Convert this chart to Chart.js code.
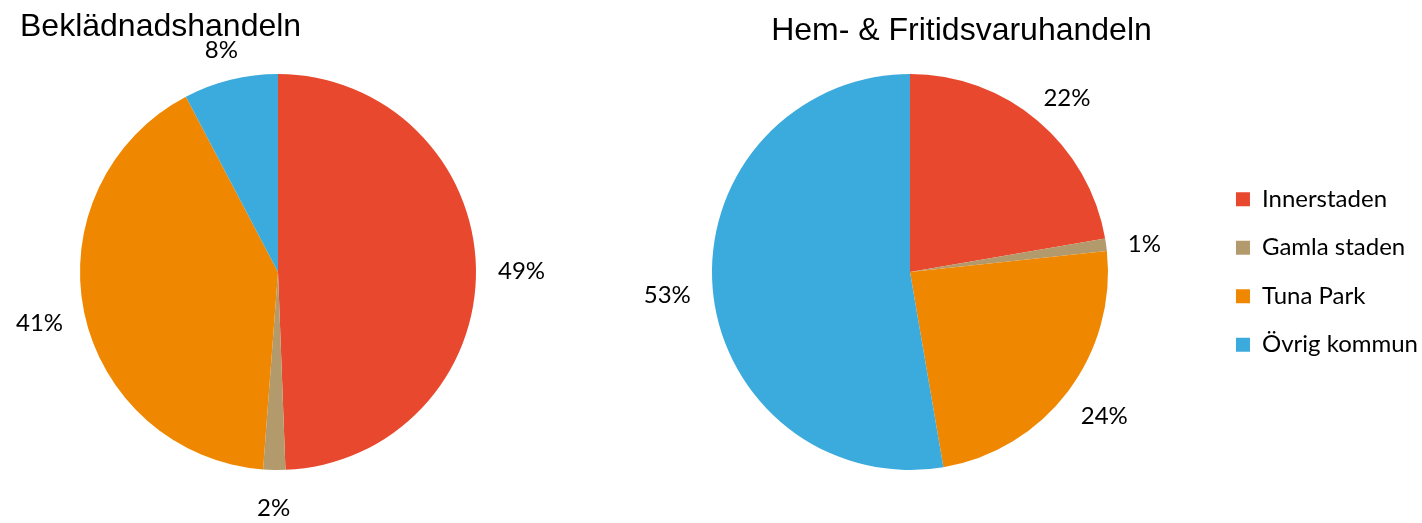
<!DOCTYPE html>
<html>
<head>
<meta charset="utf-8">
<script src="https://cdn.jsdelivr.net/npm/chart.js@4"></script>
<style>
  html, body { margin: 0; padding: 0; background: #fff; overflow: hidden; }
  #wrap { position: relative; width: 1422px; height: 523px; }
  #leftBox { position: absolute; left: 0; top: 0; width: 556px; height: 523px; }
  #rightBox { position: absolute; left: 556px; top: 0; width: 872px; height: 523px; }
</style>
</head>
<body>
<div id="wrap">
  <div id="leftBox"><canvas id="pie-left"></canvas></div>
  <div id="rightBox"><canvas id="pie-right"></canvas></div>
</div>
<script>
//PIE DATA
var areas = ["Innerstaden", "Gamla staden", "Tuna Park", "Övrig kommun"];
var klaederValues = [49.4, 1.8, 41.1, 7.7];
var hemValues = [22.3, 1.0, 24.0, 52.7];
var areaColors = ["#E8492E", "#B39A6C", "#F08700", "#3BAADC"];

var headingLeft = "Beklädnadshandeln";
var headingRight = "Hem- & Fritidsvaruhandeln";

//HEADING PLUGIN (draws the title text)
var headingPlugin = {
  id: "heading",
  afterDraw: function (chart, args, opts) {
    var ctx = chart.ctx;
    ctx.save();
    ctx.font = "32px 'Liberation Sans', Arial, sans-serif";
    ctx.fillStyle = "#000";
    ctx.textAlign = opts.align;
    ctx.textBaseline = "middle";
    ctx.fillText(opts.text, opts.x, opts.y);
    ctx.restore();
  },
};

//PERCENT LABELS OUTSIDE THE SLICES
var outsideLabels = {
  id: "outsideLabels",
  afterDatasetsDraw: function (chart) {
    var ctx = chart.ctx;
    var meta = chart.getDatasetMeta(0);
    var data = chart.data.datasets[0].data;
    var total = data.reduce(function (a, b) { return a + b; }, 0);
    ctx.save();
    ctx.font = "24px Lato, 'Open Sans', sans-serif";
    ctx.fillStyle = "#000";
    ctx.textAlign = "center";
    ctx.textBaseline = "middle";
    meta.data.forEach(function (arc, i) {
      var p = arc.getProps(["x", "y", "startAngle", "endAngle", "outerRadius"], true);
      var mid = (p.startAngle + p.endAngle) / 2;
      var txt = Math.round((data[i] / total) * 100) + "%";
      var w = ctx.measureText(txt).width;
      var h = 24;
      var c = Math.cos(mid), s = Math.sin(mid);
      var r = p.outerRadius + 22;
      var x = p.x + c * r + c * w / 2;
      var y = p.y + s * r + s * h / 2 + 4;
      ctx.fillText(txt, x, y);
    });
    ctx.restore();
  },
};

//LEFT PIE
var ctxL = document.getElementById("pie-left").getContext("2d");
new Chart(ctxL, {
  type: "pie",
  data: {
    labels: areas,
    datasets: [{ data: klaederValues, backgroundColor: areaColors, borderWidth: 0 }],
  },
  options: {
    responsive: true,
    maintainAspectRatio: false,
    animation: false,
    layout: { padding: { left: 20, right: 20, top: 74, bottom: 53 } },
    plugins: {
      legend: { display: false },
      tooltip: { enabled: false },
      heading: { text: headingLeft, x: 20, y: 27, align: "left" },
    },
  },
  plugins: [outsideLabels, headingPlugin],
});

//RIGHT PIE
var ctxR = document.getElementById("pie-right").getContext("2d");
new Chart(ctxR, {
  type: "pie",
  data: {
    labels: areas,
    datasets: [{ data: hemValues, backgroundColor: areaColors, borderWidth: 0 }],
  },
  options: {
    responsive: true,
    maintainAspectRatio: false,
    animation: false,
    layout: { padding: { left: 52.5, right: 0, top: 74, bottom: 53 } },
    plugins: {
      legend: {
        position: "right",
        labels: {
          boxWidth: 14,
          boxHeight: 14,
          padding: 24.5,
          color: "#000",
          font: { family: "Lato, 'Open Sans', sans-serif", size: 24 },
        },
      },
      tooltip: { enabled: false },
      heading: { text: headingRight, x: 405.5, y: 31.5, align: "center" },
    },
  },
  plugins: [outsideLabels, headingPlugin],
});
</script>
</body>
</html>
